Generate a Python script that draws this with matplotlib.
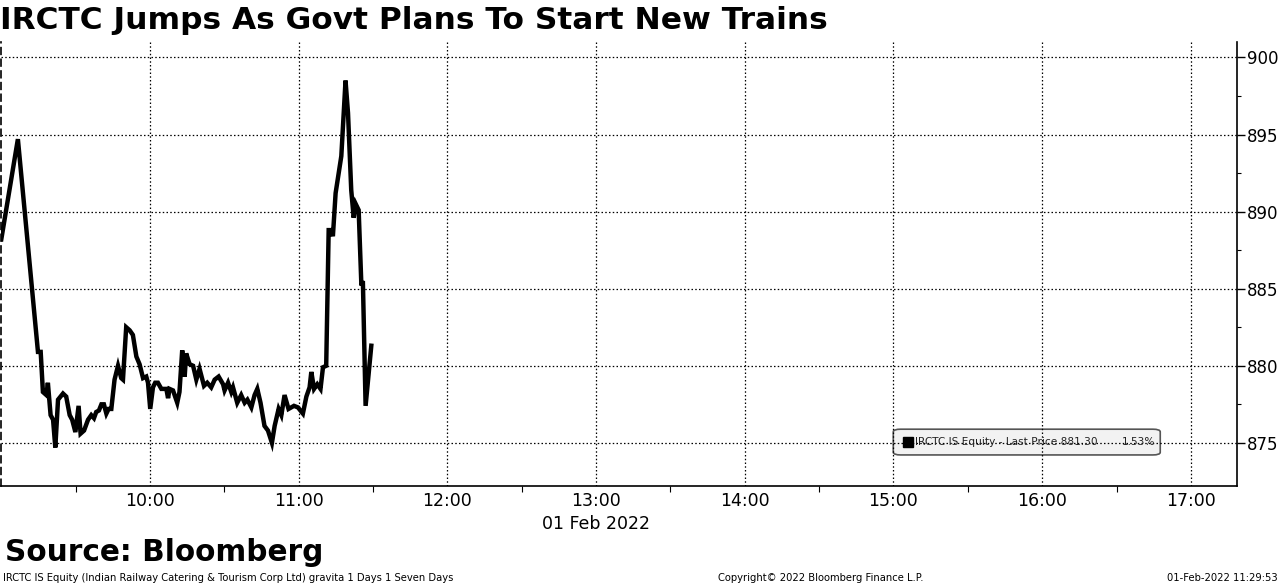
import numpy as np
import pandas as pd
import matplotlib
matplotlib.use("Agg")
import matplotlib.pyplot as plt
import matplotlib.dates as mdates
from matplotlib.patches import FancyBboxPatch

# minutes after 09:00 on 01 Feb 2022, and last price
minutes = [0.0, 6.7, 14.8, 15.9, 16.8, 18.2, 18.8, 19.9, 20.9, 21.8, 22.9, 24.9, 26.2, 27.6,
           28.6, 29.9, 31.2, 32.0, 33.4, 35.0, 36.3, 37.4, 38.3, 39.4, 40.4, 41.4, 42.4, 43.3,
           44.4, 45.7, 47.1, 48.4, 49.1, 50.4, 51.8, 53.1, 54.5, 55.8, 57.2, 58.5, 59.2, 60.1,
           61.2, 62.1, 63.2, 64.6, 66.6, 67.3, 67.9, 69.3, 71.0, 71.9, 73.0, 74.0, 74.6, 76.0,
           77.4, 78.7, 80.0, 81.8, 83.1, 84.7, 86.1, 87.7, 89.5, 90.1, 91.5, 92.8, 93.5, 95.2,
           96.8, 98.2, 99.3, 100.9, 102.2, 103.3, 104.6, 106.2, 107.6, 109.2, 110.3, 111.9,
           113.0, 114.3, 115.9, 118.1, 119.7, 121.7, 123.1, 124.4, 125.1, 126.2, 127.5, 128.8,
           129.8, 131.1, 132.1, 133.2, 133.8, 134.9, 137.2, 138.9, 139.9, 141.2, 142.2, 143.0,
           144.2, 145.3, 145.9, 147.0, 149.3]
price = [888.2, 894.7, 880.9, 880.9, 878.3, 878.1, 878.9, 876.8, 876.5, 874.7, 877.8, 878.2,
         878.0, 876.8, 876.5, 875.7, 877.4, 875.6, 875.8, 876.5, 876.8, 876.6, 877.0, 877.1,
         877.5, 877.5, 876.9, 877.2, 877.2, 879.1, 880.0, 879.2, 879.1, 882.5, 882.3, 882.0,
         880.6, 880.1, 879.2, 879.3, 878.9, 877.2, 878.6, 878.9, 878.9, 878.5, 878.5, 877.9,
         878.5, 878.4, 877.6, 878.3, 881.0, 879.3, 880.8, 880.1, 880.0, 879.1, 879.8, 878.7,
         878.9, 878.6, 879.1, 879.3, 878.8, 878.4, 878.9, 878.3, 878.6, 877.6, 878.1, 877.6,
         877.8, 877.3, 878.1, 878.5, 877.6, 876.1, 875.8, 875.0, 876.1, 877.2, 876.8, 878.1,
         877.2, 877.4, 877.3, 876.9, 878.0, 878.6, 879.6, 878.5, 878.8, 878.5, 879.9, 880.0,
         888.8, 888.8, 888.4, 891.2, 893.6, 898.5, 896.4, 891.4, 889.6, 890.5, 890.1, 885.2,
         885.5, 877.4, 881.3]
y_ticks = [875, 880, 885, 890, 895, 900]

title = "IRCTC Jumps As Govt Plans To Start New Trains"
legend_label = "IRCTC IS Equity - Last Price 881.30"
legend_change = "1.53%"
footer_left = "IRCTC IS Equity (Indian Railway Catering & Tourism Corp Ltd) gravita 1 Days 1 Seven Days"
footer_mid = "Copyright\u00a9 2022 Bloomberg Finance L.P."
footer_right = "01-Feb-2022 11:29:53"

start = pd.Timestamp("2022-02-01 09:00")
times = start + pd.to_timedelta(minutes, unit="min")

fig = plt.figure(figsize=(12.8, 5.86), dpi=100)
ax = fig.add_axes([0.001, 0.1706, 0.9656, 0.7577])

ax.plot(times, price, color="black", lw=3.2, solid_joinstyle="miter", zorder=3)

ax.set_xlim(start, start + pd.Timedelta(minutes=498.7))
ax.set_ylim(872.2, 901.0)

ax.xaxis.set_major_locator(mdates.HourLocator(byhour=range(10, 18)))
ax.xaxis.set_major_formatter(mdates.DateFormatter("%H:%M"))
ax.xaxis.set_minor_locator(mdates.MinuteLocator(byminute=[30]))
ax.yaxis.tick_right()
ax.set_yticks(y_ticks)
ax.set_yticks(np.arange(877.5, 900, 5), minor=True)

ax.tick_params(axis="x", which="major", length=0, labelsize=12.5, pad=4)
ax.tick_params(axis="x", which="minor", length=4, width=0.8, direction="out")
ax.tick_params(axis="y", which="major", length=6, width=1, labelsize=12, pad=1)
ax.tick_params(axis="y", which="minor", length=3, width=0.8)

ax.grid(True, which="major", color="black", linestyle=(0, (1.2, 1.8)), linewidth=0.9)
ax.spines["top"].set_visible(False)
ax.spines["left"].set_linestyle((0, (4, 3)))
ax.spines["left"].set_linewidth(1.2)
for s in ["bottom", "right"]:
    ax.spines[s].set_linewidth(1.2)

ax.text(start + pd.Timedelta(hours=4), -0.065, "01 Feb 2022", transform=ax.get_xaxis_transform(),
        ha="center", va="top", fontsize=12.5)

# legend box (drawn under the grid lines)
box = FancyBboxPatch((0.7217, 0.070), 0.216, 0.058, boxstyle="round,pad=0,rounding_size=0.006",
                     transform=ax.transAxes, facecolor="#f2f2f2", edgecolor="#555555",
                     linewidth=1.2, zorder=1)
ax.add_patch(box)
ax.plot([0.7335], [0.099], marker="s", ms=7, color="black", transform=ax.transAxes,
        zorder=4, clip_on=False)
ax.text(0.7395, 0.099, legend_label, transform=ax.transAxes, fontsize=7.6, va="center",
        ha="left", color="#222222", zorder=4)
ax.text(0.934, 0.099, legend_change, transform=ax.transAxes, fontsize=7.6, va="center",
        ha="right", color="#222222", zorder=4)

fig.text(0.0, 0.965, title, fontsize=22.5, fontweight="bold", ha="left", va="center")
fig.text(0.004, 0.058, "Source: Bloomberg", fontsize=21.3, fontweight="bold", ha="left", va="center")
fig.text(0.002, 0.013, footer_left, fontsize=7.2, ha="left", va="center")
fig.text(0.641, 0.013, footer_mid, fontsize=7.2, ha="center", va="center")
fig.text(0.998, 0.013, footer_right, fontsize=7.2, ha="right", va="center")

fig.savefig("out.png", dpi=100)
